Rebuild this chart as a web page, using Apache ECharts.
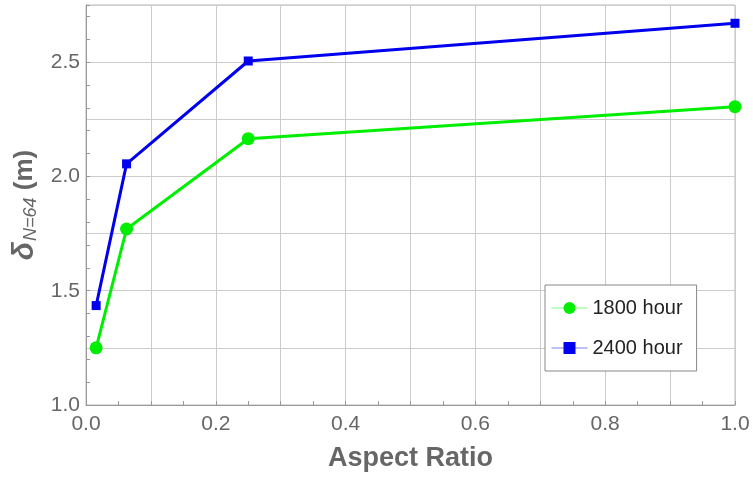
<!DOCTYPE html>
<html><head><meta charset="utf-8">
<script src="https://cdn.jsdelivr.net/npm/echarts@6/dist/echarts.min.js"></script>
<style>html,body{margin:0;padding:0;background:#fff}#c{width:753px;height:477px}</style>
</head><body><div id="c"></div>
<script>
const aspectRatio = [0.015625, 0.0625, 0.25, 1.0];
const h1800 = [1.25, 1.77, 2.165, 2.305];
const h2400 = [1.435, 2.055, 2.505, 2.67];
const seriesNames = ['1800 hour', '2400 hour'];

const near = (v, s) => Math.abs(v / s - Math.round(v / s)) < 1e-6;
const chart = echarts.init(document.getElementById('c'));
const font = 'Liberation Sans, Arial, sans-serif';
chart.setOption({
  animation: false,
  grid: { left: 86, right: 18, top: 5, bottom: 71, show: true, borderColor: '#bbb', borderWidth: 1 },
  xAxis: [{
    type: 'value', min: 0, max: 1, interval: 0.05,
    axisLine: { show: true, lineStyle: { color: '#999', width: 1 } },
    axisTick: { show: true, inside: true, length: 4, lineStyle: { color: '#999' } },
    splitLine: { show: false },
    axisLabel: { color: '#666', fontSize: 21, fontFamily: font, margin: 9,
      formatter: v => near(v, 0.2) ? v.toFixed(1) : '' },
    name: 'Aspect Ratio', nameLocation: 'middle', nameGap: 40,
    nameTextStyle: { color: '#666', fontSize: 27, fontWeight: 'bold', fontFamily: font }
  }, {
    type: 'value', min: 0, max: 1, interval: 0.1, position: 'bottom',
    axisLine: { show: false }, axisTick: { show: false }, axisLabel: { show: false },
    splitLine: { show: true, lineStyle: { color: '#ccc', width: 1 } }
  }],
  yAxis: [{
    type: 'value', min: 1, max: 2.75, interval: 0.1,
    axisLine: { show: true, lineStyle: { color: '#999', width: 1 } },
    axisTick: { show: true, inside: true, length: 4, lineStyle: { color: '#999' } },
    splitLine: { show: false },
    axisLabel: { color: '#666', fontSize: 21, fontFamily: font, margin: 6,
      formatter: v => near(v, 0.5) ? v.toFixed(1) : '' },
    name: '{d|δ}{s|N=64}{m| (m)}', nameLocation: 'middle', nameGap: 32, nameRotate: 90,
    nameTextStyle: { color: '#666', fontFamily: font,
      rich: {
        d: { fontSize: 30, fontStyle: 'italic', fontWeight: 'bold', color: '#666', fontFamily: font },
        s: { fontSize: 18, fontStyle: 'italic', color: '#666', fontFamily: font, padding: [12, 0, 0, 1] },
        m: { fontSize: 26, fontWeight: 'bold', color: '#666', fontFamily: font }
      } }
  }, {
    type: 'value', min: 1, max: 2.75, interval: 0.25, position: 'left',
    axisLine: { show: false }, axisTick: { show: false }, axisLabel: { show: false },
    splitLine: { show: true, lineStyle: { color: '#ccc', width: 1 } }
  }],
  legend: {
    left: 545, top: 285, orient: 'vertical', itemGap: 20,
    itemWidth: 36, itemHeight: 15,
    backgroundColor: '#fff', borderColor: '#888', borderWidth: 1,
    padding: [13, 14, 13, 6],
    lineStyle: { width: 1, opacity: 0.5 },
    textStyle: { color: '#222', fontSize: 20, fontFamily: font },
    data: seriesNames
  },
  series: [{
    name: seriesNames[0], type: 'line', xAxisIndex: 0, yAxisIndex: 0,
    data: aspectRatio.map((x, i) => [x, h1800[i]]),
    symbol: 'circle', symbolSize: 13,
    lineStyle: { color: '#00ee00', width: 3 }, itemStyle: { color: '#00ee00' }
  }, {
    name: seriesNames[1], type: 'line', xAxisIndex: 0, yAxisIndex: 0,
    data: aspectRatio.map((x, i) => [x, h2400[i]]),
    symbol: 'rect', symbolSize: 9,
    lineStyle: { color: '#0000ee', width: 3 }, itemStyle: { color: '#0000ee' }
  }]
});
</script></body></html>
